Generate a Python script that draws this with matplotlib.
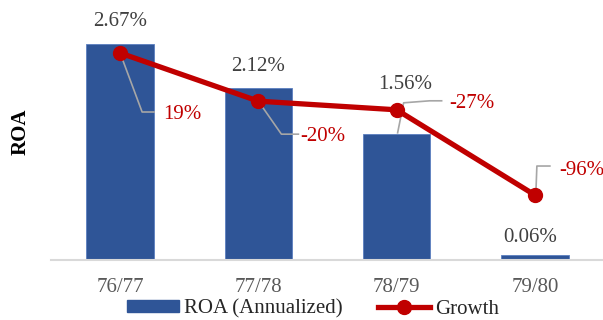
import matplotlib.pyplot as plt
from matplotlib.lines import Line2D
from matplotlib.patches import Patch

plt.rcParams['font.family'] = ['Liberation Serif', 'DejaVu Serif']

years = ['76/77', '77/78', '78/79', '79/80']
roa = [2.67, 2.12, 1.56, 0.06]
growth = [19, -20, -27, -96]

bar_color = '#2F5597'
line_color = '#C00000'
leader_color = '#A6A6A6'

# label offsets in pixels (dx, dy up) from the bar top
roa_offsets = [(0, 22), (0, 22), (9, 49), (-5, 18)]
# growth label offsets (text left edge / centre) and leader polylines, pixels from marker
growth_offsets = [(43, -61), (42, -35), (53, 6), (24, 25)]
leaders = [
    [(0, 0), (22, -59), (34, -59)],
    [(0, 0), (23, -33), (40, -33)],
    [(1, -23), (7, 7), (33, 9), (45, 9)],
    [(1, 2), (2, 29), (15, 29)],
]

fig = plt.figure(figsize=(6.03, 3.2), dpi=100)
ax = fig.add_axes([51 / 603, 60 / 320, 553 / 603, 240 / 320])
x = range(len(years))

ax.bar(x, roa, width=0.49, color=bar_color, edgecolor='#5B7FC0', linewidth=0.6, zorder=2)
ax.set_xlim(-0.5, 3.5)
ax.set_ylim(0, 240 / 81)
ax.set_xticks(list(x))
ax.set_xticklabels(years, fontsize=15, color='#595959')
ax.tick_params(axis='x', length=0, pad=13)
ax.set_yticks([])
for s in ['top', 'right', 'left']:
    ax.spines[s].set_visible(False)
ax.spines['bottom'].set_color('#D9D9D9')
ax.spines['bottom'].set_linewidth(1.5)
ax.set_ylabel('ROA', fontsize=15, fontweight='bold', color='#000000')
ax.yaxis.set_label_coords(-0.036, 0.535)

for i, v in enumerate(roa):
    dx, dy = roa_offsets[i]
    ax.annotate(f'{v:.2f}%', (i, v), xytext=(dx, dy), textcoords='offset pixels',
                ha='center', va='center', fontsize=15, color='#404040')

ax2 = ax.twinx()
ax2.set_ylim(19 - 207 / 1.235, 19 + 33 / 1.235)
ax2.set_yticks([])
for s in ax2.spines.values():
    s.set_visible(False)
ax2.plot(list(x), growth, color=line_color, linewidth=3.8, marker='o', markersize=10, zorder=3)

fig.canvas.draw()
to_px = ax2.transData
to_data = ax2.transData.inverted()
for i, g in enumerate(growth):
    px, py = to_px.transform((i, g))
    pts = [to_data.transform((px + dx, py + dy)) for dx, dy in leaders[i]]
    ax2.plot([p[0] for p in pts], [p[1] for p in pts], color=leader_color, linewidth=1.2,
             zorder=2.5, clip_on=False)
    dx, dy = growth_offsets[i]
    ax2.annotate(f'{g}%', (i, g), xytext=(dx, dy), textcoords='offset pixels',
                 ha='left', va='center', fontsize=15, color=line_color, annotation_clip=False)

handles = [Patch(facecolor=bar_color, edgecolor=bar_color),
           Line2D([], [], color=line_color, linewidth=3.8, marker='o', markersize=10)]
fig.legend(handles, ['ROA (Annualized)', 'Growth'], loc='center', bbox_to_anchor=(313 / 603, 1 - 309 / 320),
           ncol=2, frameon=False, fontsize=15, handlelength=2.5, handleheight=0.5,
           handletextpad=0.25, columnspacing=1.7, borderpad=0, labelcolor='#262626')

fig.savefig('out.png', dpi=100)
